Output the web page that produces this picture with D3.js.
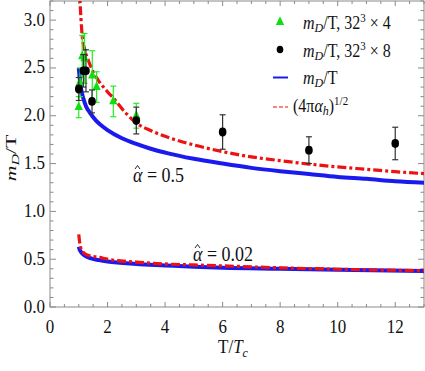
<!DOCTYPE html>
<html><head><meta charset="utf-8">
<script src="https://cdn.jsdelivr.net/npm/d3@7"></script>
<style>body{margin:0;background:#fff}svg{display:block}</style>
</head><body><svg id="c" width="425" height="371"></svg>
<script>
// ---- data ----
const latT4 = [1.0, 1.04, 1.12, 1.2, 1.47, 1.62, 2.2, 3.0];
const latV4 = [2.09, 2.35, 2.62, 2.60, 2.42, 2.30, 2.15, 2.00];
const latE4 = [0.11, 0.15, 0.22, 0.26, 0.26, 0.16, 0.16, 0.13];
const latT8 = [1.0, 1.16, 1.25, 1.46, 3.0, 6.0, 9.0, 12.0];
const latV8 = [2.28, 2.47, 2.47, 2.15, 1.95, 1.83, 1.64, 1.71];
const latE8 = [0.12, 0.17, 0.22, 0.12, 0.14, 0.18, 0.14, 0.17];
const curveT = [1.0, 1.03, 1.06, 1.1, 1.16, 1.25, 1.39, 1.6, 1.8, 2.0, 2.5, 3.0, 3.5, 4.0, 5.0, 6.0, 7.0, 8.0, 9.0, 10.0, 11.0, 12.0, 13.0];
const blueHi = [2.50, 2.40, 2.32, 2.25, 2.18, 2.10, 2.03, 1.95, 1.895, 1.85, 1.765, 1.705, 1.655, 1.615, 1.55, 1.50, 1.455, 1.42, 1.39, 1.36, 1.34, 1.315, 1.30];
const redT = [1.0, 1.02, 1.04, 1.08, 1.12, 1.2, 1.33, 1.5, 1.68, 2.0, 2.2, 2.6, 3.0, 3.5, 4.0, 5.0, 6.0, 7.0, 8.0, 9.0, 10.0, 11.0, 12.0, 13.0];
const redHi = [3.9, 3.5, 3.25, 3.0, 2.83, 2.70, 2.58, 2.46, 2.37, 2.25, 2.185, 2.04, 1.925, 1.845, 1.785, 1.695, 1.625, 1.57, 1.53, 1.495, 1.465, 1.44, 1.415, 1.395];
const lowT = [1.0, 1.03, 1.07, 1.12, 1.2, 1.4, 1.7, 2.0, 3.0, 4.0, 5.0, 6.0, 8.0, 10.0, 13.0];
const blueLo = [0.63, 0.60, 0.58, 0.56, 0.54, 0.51, 0.49, 0.475, 0.45, 0.435, 0.42, 0.41, 0.40, 0.39, 0.375];
const redLo = [0.76, 0.68, 0.62, 0.585, 0.56, 0.535, 0.52, 0.50, 0.47, 0.45, 0.44, 0.43, 0.41, 0.395, 0.38];
const xTicks = [0, 2, 4, 6, 8, 10, 12];
const yTicks = [0.0, 0.5, 1.0, 1.5, 2.0, 2.5, 3.0];

// ---- layout ----
const L = 50, R = 424, T = 1, B = 307;
const x = d3.scaleLinear().domain([0, 13]).range([L, R]);
const y = d3.scaleLinear().domain([0, 3.2]).range([B, T]);
const svg = d3.select("#c");
const FF = "'Times New Roman', Tinos, 'Liberation Serif', 'Noto Serif', 'DejaVu Serif', serif";
const SY = 1.12;

svg.append("defs").append("clipPath").attr("id", "clip").append("rect")
  .attr("x", L).attr("y", T).attr("width", R - L).attr("height", B - T);

// frame with ticks
const frameCol = "#8a8a8a";
svg.append("rect").attr("x", L).attr("y", T).attr("width", R - L).attr("height", B - T)
  .attr("fill", "none").attr("stroke", frameCol).attr("stroke-width", 1);
const xMinor = d3.range(0, 13.01, 0.5);
const yMinor = d3.range(0, 3.201, 0.1);
const g = svg.append("g").attr("stroke", frameCol).attr("stroke-width", 1);
xMinor.forEach(v => {
  const major = Math.abs(v / 2 - Math.round(v / 2)) < 1e-6;
  const len = major ? 5 : 3;
  g.append("line").attr("x1", x(v)).attr("x2", x(v)).attr("y1", B).attr("y2", B - len);
  g.append("line").attr("x1", x(v)).attr("x2", x(v)).attr("y1", T).attr("y2", T + len);
});
yMinor.forEach(v => {
  const major = Math.abs(v * 2 - Math.round(v * 2)) < 1e-6;
  const len = major ? 6 : 3.5;
  g.append("line").attr("y1", y(v)).attr("y2", y(v)).attr("x1", L).attr("x2", L + len);
  g.append("line").attr("y1", y(v)).attr("y2", y(v)).attr("x1", R).attr("x2", R - len);
});

function txt(px, py, anchor, size) {
  return svg.append("text").attr("transform", `translate(${px},${py}) scale(1,${SY})`)
    .style("font-family", FF).attr("fill", "#111")
    .attr("text-anchor", anchor).attr("font-size", size);
}
xTicks.forEach(v => txt(x(v), 333, "middle", 17).text(v));
yTicks.forEach(v => txt(45, y(v) + 5.5, "end", 17).text(v.toFixed(1)));

// axis titles
const xl = txt(233, 353, "middle", 17);
xl.append("tspan").text("T/");
xl.append("tspan").attr("font-style", "italic").text("T");
xl.append("tspan").attr("font-style", "italic").attr("font-size", 12).attr("dy", 4).text("c");

const yl = svg.append("text").attr("transform", `translate(16,158) rotate(-90) scale(1.45,1)`)
  .style("font-family", FF).attr("fill", "#111")
  .attr("text-anchor", "middle").attr("font-size", 15);
yl.append("tspan").attr("font-style", "italic").text("m");
yl.append("tspan").attr("font-style", "italic").attr("font-size", 11).attr("dy", 3).text("D");
yl.append("tspan").attr("dy", -3).text("/T");

// curves
const plot = svg.append("g").attr("clip-path", "url(#clip)");
const line = d3.line().x(d => x(d[0])).y(d => y(d[1])).curve(d3.curveMonotoneX);
const blue = "#1a1aee", red = "#ee1111";
plot.append("path").datum(curveT.map((t, i) => [t, blueHi[i]])).attr("d", line)
  .attr("fill", "none").attr("stroke", blue).attr("stroke-width", 4);
plot.append("path").datum(lowT.map((t, i) => [t, blueLo[i]])).attr("d", line)
  .attr("fill", "none").attr("stroke", blue).attr("stroke-width", 4);
plot.append("path").datum(redT.map((t, i) => [t, redHi[i]])).attr("d", line)
  .attr("fill", "none").attr("stroke", red).attr("stroke-width", 3.2).attr("stroke-dasharray", "9,3,3,3");
plot.append("path").datum(lowT.map((t, i) => [t, redLo[i]])).attr("d", line)
  .attr("fill", "none").attr("stroke", red).attr("stroke-width", 3.2).attr("stroke-dasharray", "9,3,3,3");

// error bars
function errBars(ts, vs, es, col) {
  const eg = plot.append("g").attr("stroke", col).attr("stroke-width", 1.2);
  ts.forEach((t, i) => {
    const cx = x(t), y1 = y(vs[i] + es[i]), y2 = y(vs[i] - es[i]);
    eg.append("line").attr("x1", cx).attr("x2", cx).attr("y1", y1).attr("y2", y2);
    eg.append("line").attr("x1", cx - 3).attr("x2", cx + 3).attr("y1", y1).attr("y2", y1);
    eg.append("line").attr("x1", cx - 3).attr("x2", cx + 3).attr("y1", y2).attr("y2", y2);
  });
}
errBars(latT4, latV4, latE4, "#22ee22");
const tri = d3.symbol().type(d3.symbolTriangle).size(30);
latT4.forEach((t, i) => plot.append("path").attr("d", tri)
  .attr("transform", `translate(${x(t)},${y(latV4[i])}) scale(1,1.2)`).attr("fill", "#11dd11"));
errBars(latT8, latV8, latE8, "#333");
latT8.forEach((t, i) => plot.append("ellipse").attr("cx", x(t)).attr("cy", y(latV8[i]))
  .attr("rx", 3.8).attr("ry", 4.4).attr("fill", "#000"));

// annotations
function alphaLabel(px, py, val) {
  const t = txt(px, py, "start", 18);
  t.append("tspan").attr("font-style", "italic").text("α");
  t.append("tspan").text(" = " + val);
  svg.append("path").attr("d", `M${px + 2},${py - 13} L${px + 4.5},${py - 16.5} L${px + 7},${py - 13}`)
    .attr("fill", "none").attr("stroke", "#111").attr("stroke-width", 0.9);
}
alphaLabel(133, 182, "0.5");
alphaLabel(193, 261, "0.02");

// legend
function legText(px, py, parts) { parts(txt(px, py, "start", 16)); }
const lg = svg.append("g");
lg.append("path").attr("d", tri).attr("transform", `translate(280,22) scale(1,1.2)`).attr("fill", "#11dd11");
legText(303, 29, t => {
  t.append("tspan").attr("font-style", "italic").text("m");
  t.append("tspan").attr("font-style", "italic").attr("font-size", 12).attr("dy", 3).text("D");
  t.append("tspan").attr("dy", -3).text("/T, 32");
  t.append("tspan").attr("font-size", 11).attr("dy", -6).text("3");
  t.append("tspan").attr("dy", 6).text(" × 4");
});
lg.append("ellipse").attr("cx", 280).attr("cy", 49.5).attr("rx", 3.3).attr("ry", 3.8).attr("fill", "#000");
legText(303, 57, t => {
  t.append("tspan").attr("font-style", "italic").text("m");
  t.append("tspan").attr("font-style", "italic").attr("font-size", 12).attr("dy", 3).text("D");
  t.append("tspan").attr("dy", -3).text("/T, 32");
  t.append("tspan").attr("font-size", 11).attr("dy", -6).text("3");
  t.append("tspan").attr("dy", 6).text(" × 8");
});
lg.append("line").attr("x1", 273).attr("x2", 288).attr("y1", 77.5).attr("y2", 77.5)
  .attr("stroke", blue).attr("stroke-width", 2);
legText(303, 84, t => {
  t.append("tspan").attr("font-style", "italic").text("m");
  t.append("tspan").attr("font-style", "italic").attr("font-size", 12).attr("dy", 3).text("D");
  t.append("tspan").attr("dy", -3).text("/T");
});
lg.append("line").attr("x1", 273).attr("x2", 288).attr("y1", 107).attr("y2", 107)
  .attr("stroke", red).attr("stroke-width", 1.2).attr("stroke-dasharray", "4,2");
legText(293, 112, t => {
  t.append("tspan").text("(4π");
  t.append("tspan").attr("font-style", "italic").text("α");
  t.append("tspan").attr("font-style", "italic").attr("font-size", 12).attr("dy", 3).text("h");
  t.append("tspan").attr("dy", -3).text(")");
  t.append("tspan").attr("font-size", 11).attr("dy", -6).text("1/2");
});
</script></body></html>
